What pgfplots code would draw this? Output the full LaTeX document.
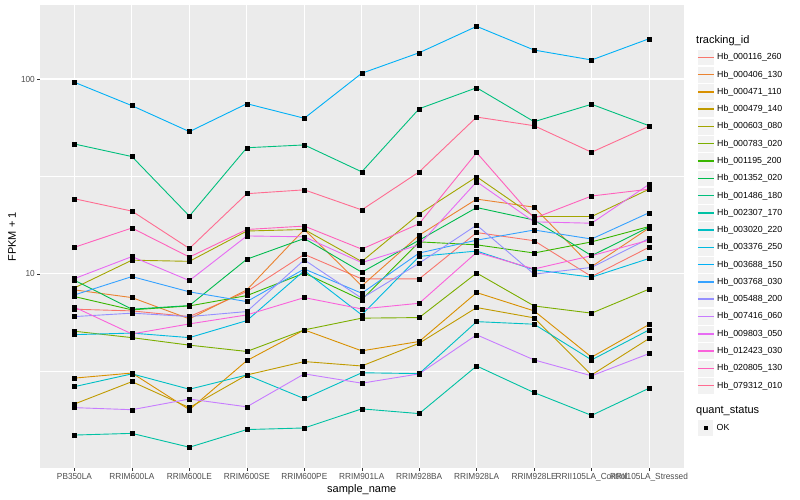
\documentclass[border=0pt]{standalone}
\usepackage{pgfplots}
\usepackage{pgfplotstable}
\pgfplotsset{compat=1.18}
\usepackage{fontspec}
\setmainfont{Liberation Sans}
\newfontfamily\tickfont[FakeStretch=0.94]{Liberation Sans}

% ggplot2 grey theme
\definecolor{panelgrey}{HTML}{EBEBEB}
\definecolor{keygrey}{HTML}{F2F2F2}
\definecolor{grey30}{HTML}{4D4D4D}
\definecolor{grey20}{HTML}{333333}
% hue palette, one colour per tracking_id (named like the table columns)
\definecolor{h116}{HTML}{F8766D}
\definecolor{h406}{HTML}{EA8331}
\definecolor{h471}{HTML}{D89000}
\definecolor{h479}{HTML}{C09B00}
\definecolor{h603}{HTML}{A3A500}
\definecolor{h783}{HTML}{7CAE00}
\definecolor{h1195}{HTML}{39B600}
\definecolor{h1352}{HTML}{00BB4E}
\definecolor{h1486}{HTML}{00BF7D}
\definecolor{h2307}{HTML}{00C1A3}
\definecolor{h3020}{HTML}{00BFC4}
\definecolor{h3376}{HTML}{00BAE0}
\definecolor{h3688}{HTML}{00B0F6}
\definecolor{h3768}{HTML}{35A2FF}
\definecolor{h5488}{HTML}{9590FF}
\definecolor{h7416}{HTML}{C77CFF}
\definecolor{h9803}{HTML}{E76BF3}
\definecolor{h12423}{HTML}{FA62DB}
\definecolor{h20805}{HTML}{FF62BC}
\definecolor{h79312}{HTML}{FF6C91}

\newcommand\ticksize{\tickfont\fontsize{8.8}{10}\selectfont}
\newcommand\legsize{\fontsize{8.8}{10}\selectfont}
\newcommand\titlesize{\fontsize{11}{13}\selectfont}

% FPKM + 1, one row per sample_name (x = 1..11)
\pgfplotstableread{
x  h116 h406 h471 h479 h603  h783 h1195 h1352 h1486 h2307 h3020 h3376 h3688 h3768 h5488 h7416 h9803 h12423 h20805 h79312
1  6.59 8.28 2.92 2.15 8.48  5.08 7.65  9.28  46.4  1.49  2.64  4.88  96.2  7.80  6.04  2.06  9.46  6.75   13.7   24.3
2  6.46 7.56 3.10 2.80 11.76 4.71 6.54  6.59  40.0  1.52  3.07  4.97  73.0  9.69  6.29  2.01  12.27 4.92   17.2   21.0
3  6.04 5.88 2.01 2.06 11.6  4.31 6.85  6.88  19.8  1.29  2.56  4.71  53.7  8.09  6.04  2.28  9.24  5.54   12.2   13.5
4  8.12 8.28 3.59 3.03 16.6  4.00 7.74  11.9  44.4  1.59  3.03  5.76  74.7  7.21  6.41  2.08  15.66 6.16   16.9   25.8
5  12.6 16.9 5.16 3.55 16.9  5.16 10.1  15.2  45.9  1.62  2.29  10.4  62.9  10.6  11.8  3.07  15.5  7.56   17.6   27.0
6  9.43 8.68 4.03 3.37 11.57 5.93 7.36  10.2  33.4  2.03  3.11  6.16  107.0 7.96  7.50  2.75  11.43 6.61   13.4   21.3
7  9.43 15.8 4.50 4.41 20.3  5.97 14.6  14.9  70.4  1.92  3.08  12.3  136.4 12.8  11.35 3.07  14.1  7.07   18.1   33.4
8  16.3 24.2 8.02 6.72 31.5  10.1 14.1  21.9  90.2  3.37  5.69  13.1  186.3 14.9  17.8  4.87  29.7  12.9   41.9   63.8
9  14.8 22.0 6.46 5.95 19.7  6.85 12.8  18.9  60.4  2.46  5.52  10.5  140.8 16.8  9.97  3.62  18.5  10.6   19.3   57.6
10 9.69 10.9 3.74 3.03 19.7  6.29 14.6  12.4  74.2  1.88  3.62  9.62  125.2 15.1  10.8  3.00  18.2  12.4   25.1   42.1
11 13.7 17.2 5.50 4.66 27.2  8.35 17.5  17.4  57.6  2.59  5.16  12.0  160.9 20.6  15.2  3.90  28.8  14.9   27.2   57.2
}\fpkm

\pgfplotsset{
  panel/.style={
    at={(40pt,31.7pt)}, anchor=south west,
    scale only axis, width=643.5pt, height=463pt,
  },
  gglegend/.style={
    legend cell align=left,
    legend style={
      anchor=north west, draw=none, fill=none,
      inner sep=0pt, outer sep=0pt, row sep=0pt, column sep=2.9pt,
      font=\legsize, nodes={inner sep=0pt},
    },
  },
}

\begin{document}
\begin{tikzpicture}
\useasboundingbox (0,0) rectangle (800pt,500pt);
\begin{axis}[
  panel, gglegend,
  ymode=log, ymin=1.006, ymax=238.9,
  xmin=0.4, xmax=11.6,
  xtick={1,2,3,4,5,6,7,8,9,10,11},
  xticklabels={PB350LA, RRIM600LA, RRIM600LE, RRIM600SE, RRIM600PE, RRIM901LA,
    RRIM928BA, RRIM928LA, RRIM928LE, RRII105LA\_Control, RRII105LA\_Stressed},
  ytick={10,100}, yticklabels={10,100},
  minor ytick={3.1623,31.623},
  axis background/.style={fill=panelgrey},
  axis line style={draw=none},
  grid=both,
  major grid style={white, line width=1.07pt},
  minor grid style={white, line width=0.53pt},
  tick align=outside, xtick pos=bottom, ytick pos=left,
  major tick length=2.75pt, minor tick length=0pt,
  tick style={draw=grey20, line width=0.5pt},
  ticklabel style={font=\ticksize, text=grey30, inner sep=0pt},
  xticklabel style={yshift=-2.2pt},
  yticklabel style={xshift=-2.2pt},
  xlabel={sample\_name}, ylabel={FPKM + 1},
  label style={font=\titlesize, inner sep=0pt},
  xlabel style={at={(axis description cs:0.5,-0.0346)}, anchor=north},
  ylabel style={at={(axis description cs:-0.0373,0.5)}, anchor=south},
  legend style={at={(axis description cs:1.02098,0.9063)}},
  legend image code/.code={
    \fill[keygrey, draw=white, line width=0.5pt] (0.25pt,-8.39pt) rectangle (16.53pt,8.39pt);
    \draw[#1, mark=none, line width=1.5pt] (0.5pt,0pt) -- (16.28pt,0pt);
  },
  legend entries={Hb\_000116\_260, Hb\_000406\_130, Hb\_000471\_110, Hb\_000479\_140,
    Hb\_000603\_080, Hb\_000783\_020, Hb\_001195\_200, Hb\_001352\_020,
    Hb\_001486\_180, Hb\_002307\_170, Hb\_003020\_220, Hb\_003376\_250,
    Hb\_003688\_150, Hb\_003768\_030, Hb\_005488\_200, Hb\_007416\_060,
    Hb\_009803\_050, Hb\_012423\_030, Hb\_020805\_130, Hb\_079312\_010},
]
% lines first, in group order
\pgfplotsinvokeforeach{h116,h406,h471,h479,h603,h783,h1195,h1352,h1486,h2307,
  h3020,h3376,h3688,h3768,h5488,h7416,h9803,h12423,h20805,h79312}{
  \addplot[color=#1, line width=0.9pt, mark=none] table[x=x, y=#1] {\fpkm};
}
% then the black points on top
\pgfplotsinvokeforeach{h116,h406,h471,h479,h603,h783,h1195,h1352,h1486,h2307,
  h3020,h3376,h3688,h3768,h5488,h7416,h9803,h12423,h20805,h79312}{
  \addplot[forget plot, only marks, mark=square*, mark size=2pt, black] table[x=x, y=#1] {\fpkm};
}
\end{axis}

% second legend: quant_status
\begin{axis}[
  panel, gglegend, hide axis,
  xmin=0, xmax=1, ymin=0, ymax=1,
  legend style={at={(axis description cs:1.02098,0.1057)}},
  legend image code/.code={
    \fill[keygrey, draw=white, line width=0.5pt] (0.25pt,-8.39pt) rectangle (16.53pt,8.39pt);
    \draw[#1] plot coordinates {(8.39pt,0pt)};
  },
]
\addlegendimage{only marks, mark=square*, mark size=1.6pt, black}
\addlegendentry{OK}
\end{axis}

\node[anchor=base west, font=\titlesize, inner sep=0pt] at (696pt,456pt) {tracking\_id};
\node[anchor=base west, font=\titlesize, inner sep=0pt] at (696pt,86pt) {quant\_status};
\end{tikzpicture}
\end{document}
